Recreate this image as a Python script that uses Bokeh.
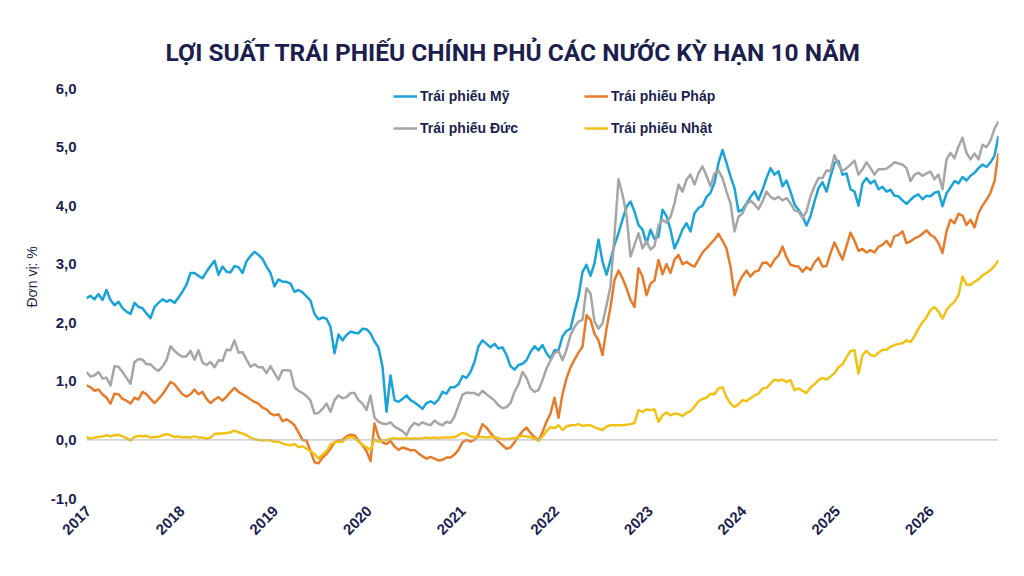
import math
import pandas as pd
from bokeh.plotting import figure
from bokeh.models import (ColumnDataSource, Legend, LegendItem, Span, Title,
                          FixedTicker, DatetimeTickFormatter)
from bokeh.embed import file_html
from bokeh.resources import INLINE

# Roughly twice-monthly observations, late Dec 2016 to Sep 2026
dates = pd.date_range("2016-12-24", "2026-09-20", periods=229)

# 10-year government bond yields, %
us = [
    2.42, 2.46, 2.40, 2.49, 2.39, 2.56, 2.39, 2.30, 2.36, 2.25,
    2.19, 2.15, 2.34, 2.27, 2.25, 2.16, 2.08, 2.27, 2.34, 2.40,
    2.36, 2.39, 2.34, 2.43, 2.53, 2.65, 2.85, 2.85, 2.80, 2.76,
    2.87, 2.97, 3.06, 2.82, 2.96, 2.87, 2.86, 2.97, 2.95, 2.85,
    3.05, 3.14, 3.21, 3.16, 3.09, 2.96, 2.85, 2.62, 2.74, 2.70,
    2.70, 2.67, 2.53, 2.56, 2.52, 2.45, 2.38, 2.15,
    2.06, 2.09, 2.07, 1.93, 1.48, 1.80, 1.70, 1.79, 1.85, 1.83,
    1.82, 1.90, 1.89, 1.82, 1.68, 1.58, 1.25, 0.48, 1.10, 0.68,
    0.65, 0.70, 0.76, 0.68, 0.64, 0.59, 0.53, 0.63, 0.66, 0.62,
    0.69, 0.82, 0.79, 0.90, 0.90, 0.95, 1.09, 1.06, 1.16, 1.33,
    1.60, 1.70, 1.64, 1.58, 1.64, 1.56, 1.58, 1.45, 1.26, 1.20,
    1.28, 1.30, 1.36, 1.50, 1.60, 1.53,
    1.62, 1.48, 1.39, 1.53, 1.53, 1.77, 1.86, 1.90, 2.19, 2.45,
    2.87, 2.99, 2.80, 3.02, 3.42, 3.05, 2.82, 3.07, 3.33, 3.53,
    3.76, 3.98, 4.07, 3.90, 3.67, 3.59, 3.35, 3.59, 3.43, 3.47,
    3.93, 3.82, 3.59, 3.27, 3.42, 3.59, 3.70, 3.56, 3.87, 3.96,
    4.00, 4.15, 4.22, 4.39, 4.73, 4.95, 4.73, 4.50, 4.30, 3.90,
    3.93, 4.04, 4.15, 4.24, 4.10, 4.27,
    4.47, 4.64, 4.53, 4.59, 4.33, 4.43, 4.24, 4.02, 3.93, 3.82,
    3.66, 3.82, 4.07, 4.30, 4.40, 4.24, 4.50, 4.73, 4.76, 4.53,
    4.55, 4.28, 4.24, 4.00, 4.38, 4.47, 4.38, 4.43, 4.28, 4.32,
    4.24, 4.27, 4.17, 4.16, 4.09, 4.03, 4.10, 4.16, 4.19, 4.11,
    4.17, 4.16, 4.22, 4.24, 3.99, 4.21, 4.31, 4.42, 4.38, 4.49,
    4.43, 4.51, 4.56, 4.64, 4.70, 4.66, 4.74, 4.85, 5.19,
]

france = [
    0.93, 0.90, 0.84, 0.86, 0.78, 0.72, 0.62, 0.79, 0.78, 0.70,
    0.67, 0.62, 0.72, 0.69, 0.82, 0.78, 0.70, 0.63, 0.70, 0.78,
    0.88, 0.99, 0.95, 0.86, 0.78, 0.74, 0.78, 0.86, 0.78, 0.82,
    0.70, 0.63, 0.69, 0.73, 0.67, 0.74, 0.82, 0.89, 0.82, 0.78,
    0.74, 0.69, 0.65, 0.62, 0.55, 0.52, 0.45, 0.42, 0.44, 0.32,
    0.35, 0.31, 0.25, 0.13, 0.00, -0.01, -0.19, -0.38,
    -0.40, -0.30, -0.24, -0.15, -0.04, -0.01, 0.00, 0.06, 0.09, 0.08,
    -0.01, -0.09, -0.19, -0.36, 0.28, 0.05, -0.04, -0.07, -0.02, -0.11,
    -0.17, -0.13, -0.15, -0.18, -0.17, -0.23, -0.28, -0.32, -0.29, -0.32,
    -0.35, -0.34, -0.30, -0.30, -0.25, -0.17, -0.04, 0.00, -0.03, 0.00,
    0.09, 0.27, 0.21, 0.12, 0.04, -0.03, -0.09, -0.15, -0.13, -0.04,
    0.06, 0.15, 0.21, 0.12, 0.05, -0.01,
    0.13, 0.31, 0.45, 0.72, 0.38, 0.78, 1.05, 1.24, 1.37, 1.49,
    1.59, 2.13, 2.05, 1.81, 1.70, 1.45, 1.90, 2.27, 2.73, 2.89,
    2.76, 2.59, 2.39, 2.27, 2.93, 2.79, 2.47, 2.67, 2.72, 3.07,
    2.83, 3.00, 2.85, 3.08, 3.16, 3.00, 3.04, 2.99, 2.96, 3.08,
    3.20, 3.27, 3.35, 3.42, 3.52, 3.40, 3.27, 2.96, 2.47, 2.67,
    2.80, 2.89, 2.79, 2.87, 2.89, 3.02,
    3.03, 2.96, 3.08, 3.15, 3.30, 3.12, 2.99, 2.97, 2.96, 2.87,
    2.95, 2.90, 3.03, 3.11, 2.96, 2.97, 3.19, 3.37, 3.22, 3.08,
    3.31, 3.54, 3.40, 3.23, 3.26, 3.20, 3.24, 3.20, 3.30, 3.33,
    3.40, 3.30, 3.48, 3.50, 3.56, 3.36, 3.39, 3.44, 3.47, 3.52,
    3.58, 3.50, 3.46, 3.36, 3.19, 3.56, 3.76, 3.70, 3.86, 3.83,
    3.67, 3.76, 3.63, 3.87, 4.00, 4.10, 4.22, 4.42, 4.90,
]

germany = [
    1.16, 1.08, 1.10, 1.16, 1.05, 1.06, 0.93, 1.26, 1.25, 1.16,
    1.06, 0.96, 1.33, 1.38, 1.37, 1.29, 1.29, 1.22, 1.18, 1.25,
    1.36, 1.60, 1.52, 1.46, 1.42, 1.43, 1.52, 1.37, 1.53, 1.32,
    1.28, 1.33, 1.24, 1.36, 1.35, 1.54, 1.53, 1.70, 1.49, 1.50,
    1.37, 1.25, 1.29, 1.24, 1.24, 1.14, 1.26, 1.14, 1.03, 1.19,
    1.19, 1.18, 0.90, 0.84, 0.80, 0.75, 0.67, 0.45,
    0.46, 0.53, 0.62, 0.48, 0.68, 0.76, 0.71, 0.73, 0.80, 0.80,
    0.68, 0.62, 0.51, 0.76, 0.38, 0.31, 0.28, 0.27, 0.30, 0.23,
    0.19, 0.15, 0.08, 0.22, 0.29, 0.25, 0.30, 0.27, 0.25, 0.33,
    0.28, 0.25, 0.31, 0.29, 0.40, 0.59, 0.77, 0.81, 0.80, 0.80,
    0.76, 0.84, 0.78, 0.73, 0.67, 0.59, 0.54, 0.56, 0.63, 0.82,
    0.95, 1.16, 1.06, 0.88, 0.82, 0.85,
    1.02, 1.22, 1.36, 1.48, 1.52, 1.36, 1.54, 1.79, 1.93, 2.02,
    2.05, 2.59, 2.50, 2.02, 1.90, 1.99, 2.30, 2.62, 3.50, 4.45,
    4.19, 3.84, 3.13, 3.33, 3.53, 3.27, 3.39, 3.25, 3.31, 3.66,
    3.76, 3.71, 3.81, 4.04, 4.36, 4.24, 4.44, 4.53, 4.36, 4.55,
    4.67, 4.51, 4.33, 4.55, 4.60, 4.47, 4.24, 4.04, 3.56, 3.81,
    3.87, 4.02, 4.09, 4.02, 3.94, 4.07,
    4.24, 4.15, 4.11, 4.15, 4.09, 4.13, 4.04, 3.92, 3.90, 3.79,
    3.90, 4.16, 4.33, 4.47, 4.47, 4.60, 4.59, 4.86, 4.70, 4.59,
    4.64, 4.70, 4.77, 4.53, 4.62, 4.74, 4.64, 4.53, 4.62, 4.62,
    4.63, 4.68, 4.74, 4.72, 4.70, 4.64, 4.42, 4.53, 4.56, 4.51,
    4.55, 4.58, 4.45, 4.53, 4.28, 4.79, 4.90, 4.81, 5.01, 5.16,
    4.90, 4.79, 4.89, 4.79, 5.04, 5.00, 5.11, 5.31, 5.44,
]

japan = [
    0.05, 0.02, 0.04, 0.05, 0.06, 0.08, 0.06, 0.08, 0.09, 0.06,
    0.03, -0.01, 0.05, 0.07, 0.06, 0.07, 0.04, 0.05, 0.05, 0.08,
    0.10, 0.08, 0.05, 0.06, 0.04, 0.05, 0.04, 0.06, 0.04, 0.04,
    0.02, 0.04, 0.10, 0.11, 0.11, 0.12, 0.13, 0.16, 0.13, 0.11,
    0.08, 0.04, 0.01, 0.00, -0.01, 0.00, -0.01, -0.03, -0.03, -0.06,
    -0.08, -0.09, -0.07, -0.12, -0.11, -0.15, -0.19, -0.24,
    -0.32, -0.25, -0.19, -0.08, -0.04, -0.03, -0.03, 0.03, 0.05, 0.03,
    -0.03, -0.08, -0.13, -0.17, 0.01, -0.03, -0.01, 0.00, 0.02, 0.03,
    0.02, 0.02, 0.03, 0.02, 0.03, 0.02, 0.03, 0.04, 0.03, 0.04,
    0.03, 0.04, 0.04, 0.04, 0.05, 0.08, 0.12, 0.10, 0.06, 0.05,
    0.05, 0.05, 0.04, 0.05, 0.05, 0.03, 0.01, 0.01, 0.02, 0.03,
    0.05, 0.07, 0.06, 0.05, 0.02, -0.01,
    0.06, 0.15, 0.22, 0.20, 0.25, 0.17, 0.23, 0.25, 0.25, 0.27,
    0.24, 0.25, 0.25, 0.22, 0.19, 0.17, 0.23, 0.25, 0.25, 0.25,
    0.25, 0.26, 0.27, 0.29, 0.51, 0.48, 0.52, 0.51, 0.52, 0.31,
    0.42, 0.47, 0.42, 0.45, 0.44, 0.41, 0.46, 0.49, 0.57, 0.66,
    0.70, 0.72, 0.79, 0.78, 0.88, 0.90, 0.73, 0.62, 0.56, 0.61,
    0.68, 0.66, 0.71, 0.76, 0.79, 0.88,
    0.89, 0.96, 1.03, 1.01, 1.03, 0.99, 1.02, 0.85, 0.88, 0.84,
    0.80, 0.90, 0.95, 1.02, 1.06, 1.03, 1.08, 1.14, 1.24, 1.29,
    1.41, 1.52, 1.53, 1.13, 1.45, 1.52, 1.45, 1.43, 1.49, 1.54,
    1.54, 1.59, 1.62, 1.64, 1.65, 1.70, 1.67, 1.77, 1.90, 2.01,
    2.09, 2.22, 2.27, 2.19, 2.07, 2.22, 2.30, 2.36, 2.47, 2.79,
    2.65, 2.65, 2.70, 2.74, 2.81, 2.85, 2.90, 2.97, 3.07,
]

series_names = ["Trái phiếu Mỹ", "Trái phiếu Pháp", "Trái phiếu Đức", "Trái phiếu Nhật"]
series_colors = ["#1aa3d9", "#e67c2b", "#a6a6a6", "#f1c116"]

year_ticks = list(range(2017, 2027))
y_ticks = [-1, 0, 1, 2, 3, 4, 5, 6]
y_tick_labels = ["-1,0", "0,0", "1,0", "2,0", "3,0", "4,0", "5,0", "6,0"]

title_text = "LỢI SUẤT TRÁI PHIẾU CHÍNH PHỦ CÁC NƯỚC KỲ HẠN 10 NĂM"
unit_text = "Đơn vị: %"

for s in (us, france, germany, japan):
    assert len(s) == len(dates)

NAVY = "#1c1f4e"

source = ColumnDataSource(dict(date=dates, us=us, fr=france, de=germany, jp=japan))

p = figure(width=1024, height=576, x_axis_type="datetime",
           x_range=(dates[0], dates[-1]), y_range=(-1, 6),
           output_backend="svg", toolbar_location=None,
           min_border_left=86, min_border_right=26,
           min_border_top=88, min_border_bottom=78)

p.background_fill_color = "white"
p.border_fill_color = "white"
p.outline_line_color = None
p.xgrid.visible = False
p.ygrid.visible = False

# Title
p.title.text = title_text
p.title.align = "left"
p.title.offset = 79
p.title.standoff = 44
p.title.text_font = "Roboto"
p.title.text_font_style = "bold"
p.title.text_font_size = "24.5px"
p.title.text_color = NAVY

# Zero reference line
p.add_layout(Span(location=0, dimension="width", line_color="#b5b5b5", line_width=1))

renderers = []
for col, color in zip(["us", "fr", "de", "jp"], series_colors):
    r = p.line(x="date", y=col, source=source, line_color=color, line_width=2.5,
               line_join="round")
    renderers.append(r)

# Axes
xa = p.xaxis[0]
xa.ticker = FixedTicker(ticks=[pd.Timestamp(f"{y}-01-01").value // 10**6 for y in year_ticks])
xa.formatter = DatetimeTickFormatter(years="%Y", months="%Y", days="%Y", hours="%Y")
xa.major_label_orientation = math.pi / 4
xa.axis_line_color = None
xa.major_tick_line_color = None
xa.minor_tick_line_color = None
xa.major_tick_out = 0
xa.major_label_standoff = 10
xa.major_label_text_font = "Liberation Sans"
xa.major_label_text_font_style = "bold"
xa.major_label_text_font_size = "15px"
xa.major_label_text_color = NAVY

ya = p.yaxis[0]
ya.ticker = FixedTicker(ticks=y_ticks)
ya.major_label_overrides = dict(zip(y_ticks, y_tick_labels))
ya.axis_line_color = None
ya.major_tick_line_color = None
ya.minor_tick_line_color = None
ya.major_tick_out = 0
ya.major_label_standoff = 10
ya.major_label_text_font = "Liberation Sans"
ya.major_label_text_font_style = "bold"
ya.major_label_text_font_size = "15px"
ya.major_label_text_color = NAVY

# Unit caption beside the value axis
p.add_layout(Title(text=unit_text, align="left", offset=191, standoff=15,
                   text_font="Liberation Sans", text_font_style="normal",
                   text_font_size="14px", text_color=NAVY), "left")

legend = Legend(
    items=[LegendItem(label=n, renderers=[r]) for n, r in zip(series_names, renderers)],
    location=(307, 360), orientation="horizontal", ncols=2,
    padding=0, margin=0, spacing=12,
    glyph_width=24, glyph_height=20, label_height=20, label_width=152,
    label_standoff=3,
    label_text_font="Liberation Sans", label_text_font_style="bold",
    label_text_font_size="14px", label_text_color=NAVY,
    border_line_alpha=0, background_fill_alpha=0,
)
p.add_layout(legend)

open("out.html", "w").write(file_html(p, INLINE))
